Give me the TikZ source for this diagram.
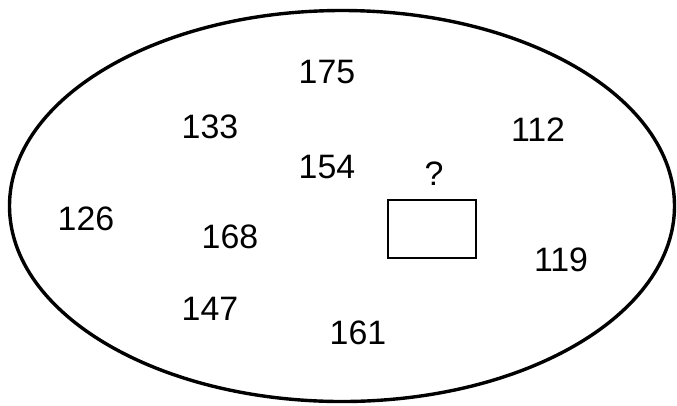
\documentclass[tikz,border=0pt]{standalone}
\usepackage{fontspec}
\setmainfont{Liberation Sans}
\usetikzlibrary{shapes.geometric}
\begin{document}
\begin{tikzpicture}[x=1bp,y=-1bp,
  num/.style={font=\fontsize{34}{38}\selectfont, inner sep=0pt},
  qbox/.style={draw, line width=2bp, minimum width=88bp, minimum height=58bp, inner sep=0pt}]
\useasboundingbox (0,0) rectangle (677,405);
\node[draw, ellipse, line width=3.4bp, minimum width=665bp, minimum height=391bp, inner sep=0pt] (ell) at (342,206) {};
\node[num] (n175) at (327,72) {175};
\node[num] (n133) at (210,127) {133};
\node[num] (n112) at (538,130) {112};
\node[num] (n154) at (327,167) {154};
\node[num] (q) at (434,174) {?};
\node[num] (n126) at (86,219) {126};
\node[num] (n168) at (230,237) {168};
\node[num] (n119) at (561,260) {119};
\node[num] (n147) at (210,309) {147};
\node[num] (n161) at (358,333) {161};
\node[qbox] (box) at (432,228.5) {};
\end{tikzpicture}
\end{document}
